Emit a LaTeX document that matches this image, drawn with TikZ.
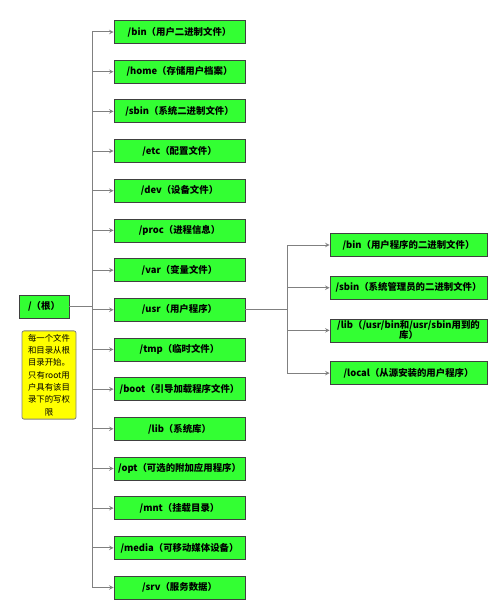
\documentclass[tikz,border=0pt]{standalone}
\usepackage{fontspec}
\setmainfont{Noto Sans CJK SC}
\usetikzlibrary{arrows, calc}
\definecolor{boxgreen}{HTML}{33FF33}
\definecolor{notey}{HTML}{FFFF00}
\definecolor{linegray}{HTML}{808080}
\tikzstyle{dir} = [rectangle, minimum width=131pt, minimum height=23pt, text centered, draw=black!75, line width=0.8pt, fill=boxgreen, font=\fontsize{9.4}{10}\selectfont\bfseries]
\tikzstyle{subdir} = [dir, minimum width=157pt]
\tikzstyle{note} = [rectangle, rounded corners=2pt, minimum width=54pt, minimum height=86pt, align=center, draw=black!50, line width=0.8pt, fill=notey, font=\fontsize{8.4}{12.3}\selectfont]
\tikzstyle{line} = [draw=linegray, line width=1pt]
\tikzstyle{arrow} = [line, ->, >=stealth]

\begin{document}
\begin{tikzpicture}[x=1pt, y=1pt, node distance=39.68pt]
    \useasboundingbox (0,0) rectangle (500,-612);

    \node (bin) [dir] at (179.5,-32) {/bin（用户二进制文件）};
    \node (home) [dir, below of=bin] {/home（存储用户档案）};
    \node (sbin) [dir, below of=home] {/sbin（系统二进制文件）};
    \node (etc) [dir, below of=sbin] {/etc（配置文件）};
    \node (dev) [dir, below of=etc] {/dev（设备文件）};
    \node (proc) [dir, below of=dev] {/proc（进程信息）};
    \node (var) [dir, below of=proc] {/var（变量文件）};
    \node (usr) [dir, below of=var] {/usr（用户程序）};
    \node (tmp) [dir, below of=usr] {/tmp（临时文件）};
    \node (boot) [dir, below of=tmp] {/boot（引导加载程序文件）};
    \node (lib) [dir, below of=boot] {/lib（系统库）};
    \node (opt) [dir, below of=lib] {/opt（可选的附加应用程序）};
    \node (mnt) [dir, below of=opt] {/mnt（挂载目录）};
    \node (media) [dir, below of=mnt] {/media（可移动媒体设备）};
    \node (srv) [dir, below of=media] {/srv（服务数据）};

    \node (root) [dir, minimum width=50pt] at (44,-306.5) {/（根）};
    \node (note) [note] at (49,-375) {每一个文件\\和目录从根\\目录开始。\\只有root用\\户具有该目\\录下的写权\\限};

    \node (ubin) [subdir] at (408.5,-245) {/bin（用户程序的二进制文件）};
    \node (usbin) [subdir, below of=ubin, node distance=42.7pt] {/sbin（系统管理员的二进制文件）};
    \node (ulib) [subdir, below of=usbin, node distance=42.7pt, align=center, inner ysep=1pt] {/lib（/usr/bin和/usr/sbin用到的\\库）};
    \node (ulocal) [subdir, below of=ulib, node distance=42.7pt] {/local（从源安装的用户程序）};

    \coordinate (rootj) at ($(root.east)+(23,0)$);
    \coordinate (usrj) at ($(usr.east)+(42,0)$);

    \draw [line] (root) -- (rootj);
    \draw [line] (rootj |- bin) -- (rootj |- srv);
    \foreach \d in {bin,home,sbin,etc,dev,proc,var,usr,tmp,boot,lib,opt,mnt,media,srv}
        \draw [arrow] (rootj |- \d) -- (\d);

    \draw [line] (usr) -- (usrj);
    \draw [line] (usrj |- ubin) -- (usrj |- ulocal);
    \foreach \d in {ubin,usbin,ulib,ulocal}
        \draw [arrow] (usrj |- \d) -- (\d);

\end{tikzpicture}
\end{document}
